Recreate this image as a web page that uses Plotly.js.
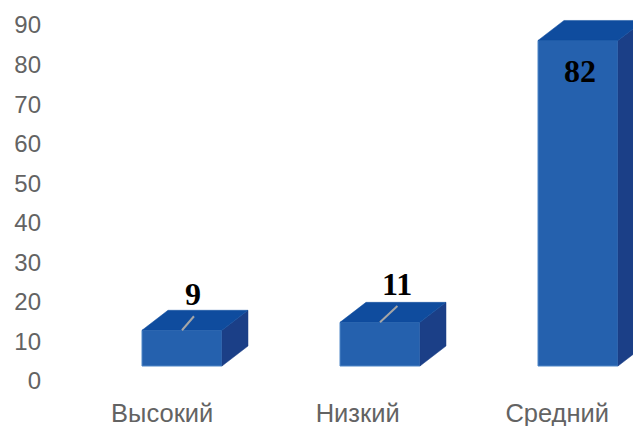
<!DOCTYPE html>
<html><head><meta charset="utf-8">
<script src="https://cdn.plot.ly/plotly-3.0.0.min.js"></script>
<style>html,body{margin:0;padding:0;background:#fff}#c{width:633px;height:426px}</style>
</head><body><div id="c"></div>
<script>
var categories = ["Высокий","Низкий","Средний"];
var values = [9,11,82];
var yTicks = [0,10,20,30,40,50,60,70,80,90];
var leaderEnds = [[0.46,0.7],[0.67,0.82],null];
var labelOffsets = [[11,-36],[17,-38],[2,31]];
var tickShift = [-0.1,-0.113,-0.105];

var W=633,H=426,mL=42,mB=31;
var step=198, firstPx=182, pxPerUnit=3.97, basePx=366, tickZeroPx=381;
var barW=80/step, dx=26/step, dy=20/pxPerUnit;
var idx=categories.map(function(_,i){return i;});
var xRange=[(mL-firstPx)/step,(W-firstPx)/step];
var y2Range=[(basePx-(H-mB))/pxPerUnit,basePx/pxPerUnit];
var y1Range=[(tickZeroPx-(H-mB))/3.955,tickZeroPx/3.955];

var traces=[];
function poly(xs,ys,color){
  traces.push({type:'scatter',mode:'lines',x:xs,y:ys,fill:'toself',fillcolor:color,
    line:{color:color,width:0.5},yaxis:'y2',hoverinfo:'skip',showlegend:false});
}
idx.forEach(function(i){
  var v=values[i],l=i-barW/2,r=i+barW/2;
  poly([r,r+dx,r+dx,r,r],[0,dy,v+dy,v,0],'#1b3f87');
  poly([l,l+dx,r+dx,r,l],[v,v+dy,v+dy,v,v],'#0f4c9e');
});
traces.push({type:'bar',x:idx,y:values,width:barW,yaxis:'y2',
  marker:{color:'#2561ae',line:{color:'#4f86c6',width:1}},hoverinfo:'skip',showlegend:false});
idx.forEach(function(i){
  if(!leaderEnds[i])return;
  traces.push({type:'scatter',mode:'lines',x:[i,i+dx*leaderEnds[i][0]],y:[values[i],values[i]+dy*leaderEnds[i][1]],yaxis:'y2',
    line:{color:'#a6a6a6',width:2},hoverinfo:'skip',showlegend:false});
});
// invisible trace that keeps the tick axis alive
traces.push({type:'scatter',mode:'markers',x:idx,y:values,yaxis:'y',marker:{opacity:0},hoverinfo:'skip',showlegend:false});

var annotations=idx.map(function(i){
  return {x:i,y:values[i],xref:'x',yref:'y2',text:'<b>'+values[i]+'</b>',showarrow:false,
    xanchor:'center',yanchor:'middle',xshift:labelOffsets[i][0],yshift:-labelOffsets[i][1],
    font:{family:'"Liberation Serif",serif',size:32,color:'#000'}};
});

var layout={width:W,height:H,margin:{l:mL,r:0,t:0,b:mB,pad:0},
  paper_bgcolor:'#fff',plot_bgcolor:'#fff',showlegend:false,
  barmode:'overlay',
  xaxis:{range:xRange,tickmode:'array',tickvals:idx.map(function(i){return i+tickShift[i];}),ticktext:categories,
    showgrid:false,zeroline:false,showline:false,ticks:'',
    tickfont:{family:'"Liberation Sans",Arial,sans-serif',size:25.5,color:'#636363'}},
  yaxis:{range:y1Range,tickmode:'array',tickvals:yTicks,showgrid:false,zeroline:false,showline:false,ticks:'',
    tickfont:{family:'"Liberation Sans",Arial,sans-serif',size:24,color:'#636363'}},
  yaxis2:{range:y2Range,overlaying:'y',side:'left',visible:false,showgrid:false,zeroline:false},
  annotations:annotations};
Plotly.newPlot('c',traces,layout,{staticPlot:true,displayModeBar:false});
</script></body></html>
